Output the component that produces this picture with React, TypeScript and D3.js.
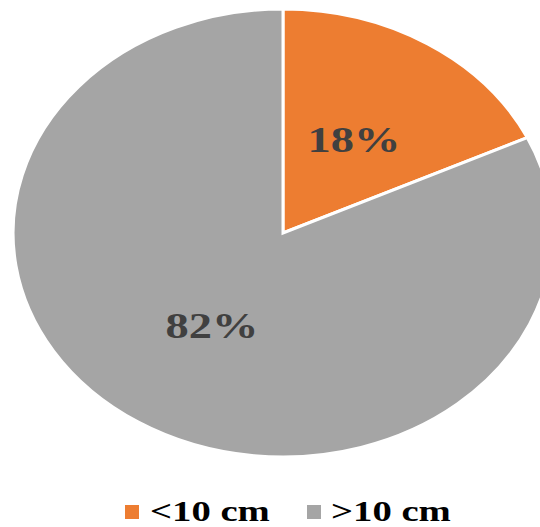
import React from "react";
import * as d3 from "d3";

const categories: string[] = ["<10 cm", ">10 cm"];
const values: number[] = [18, 82];
const colors: string[] = ["#ED7D31", "#A5A5A5"];

const W = 540;
const H = 527;
const cx = 283;
const cy = 233;
const ry = 224;
const sx = 1.205;
const textSx = 1.29;

const serif = { fontFamily: "Liberation Serif, serif", fontWeight: 700 } as const;

export default function App() {
  const pie = d3.pie<number>().sort(null).value((d) => d)(values);
  const arc = d3.arc<d3.PieArcDatum<number>>().innerRadius(0).outerRadius(ry);
  const labelArc = d3.arc<d3.PieArcDatum<number>>().innerRadius(110).outerRadius(110);
  const total = d3.sum(values);

  const legendItems = [
    { sq: 125, tx: 150 },
    { sq: 307, tx: 331 },
  ];

  return (
    <svg
      width={W}
      height={H}
      style={{ position: "absolute", left: 0, top: 0, display: "block", background: "#fff" }}
    >
      <g transform={`translate(${cx},${cy}) scale(${sx},1)`}>
        {pie.map((p, i) => (
          <path
            key={i}
            d={arc(p) || ""}
            fill={colors[i]}
            stroke="#fff"
            strokeWidth={3}
            vectorEffect="non-scaling-stroke"
            strokeLinejoin="miter"
          />
        ))}
      </g>
      {pie.map((p, i) => {
        const [lx, ly] = labelArc.centroid(p);
        const x = cx + lx * sx;
        const y = cy + ly;
        return (
          <text
            key={i}
            transform={`translate(${x},${y + 12}) scale(${textSx},1)`}
            textAnchor="middle"
            style={{ ...serif, fontSize: "36px" }}
            fill="#404040"
          >
            {`${Math.round((p.data / total) * 100)}%`}
          </text>
        );
      })}
      {categories.map((c, i) => (
        <g key={c}>
          <rect x={legendItems[i].sq} y={505} width={14} height={14} fill={colors[i]} />
          <text
            transform={`translate(${legendItems[i].tx},${521}) scale(${textSx},1)`}
            style={{ ...serif, fontSize: "30px" }}
            fill="#000"
          >
            {c}
          </text>
        </g>
      ))}
    </svg>
  );
}
